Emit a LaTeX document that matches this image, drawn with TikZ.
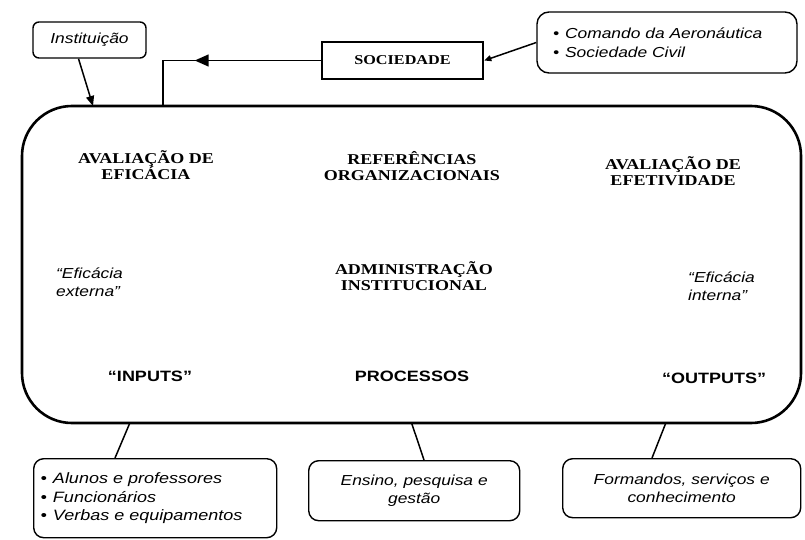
\documentclass[tikz,border=0pt]{standalone}
\usepackage{fontspec}
\setmainfont{Liberation Serif}[FakeStretch=1.2]
\setsansfont{Liberation Sans}[FakeStretch=1.2]
\usetikzlibrary{arrows.meta,decorations.markings}
\tikzset{bigbox/.style={draw, line width=2.6pt, rounded corners=50pt, inner sep=0pt},
notebox/.style={draw, line width=1.4pt, rounded corners=#1, inner sep=0pt},
%default radius of the small boxes
notebox/.default={10pt},
head/.style={font=\fontsize{15}{16}\selectfont\bfseries, align=center, inner sep=0pt},
note/.style={font=\sffamily\itshape\fontsize{14.5}{18.5}\selectfont},
stage/.style={font=\sffamily\bfseries\fontsize{15}{18}\selectfont, inner sep=0pt},
link/.style={line width=1.5pt}}
\newcommand{\itm}{\textbullet\hspace{6pt}}

\begin{document}
\begin{tikzpicture}[x=1pt,y=-1pt]
\useasboundingbox (0,0) rectangle (805,540);
% top boxes
\node[notebox=6pt, note, minimum width=113pt, minimum height=36pt] (inst) at (89.5,40) {Instituição};
\node[draw, line width=2.6pt, minimum width=161pt, minimum height=37pt, inner sep=0pt,
  font=\fontsize{13.5}{16}\selectfont\bfseries] (soc) at (402.5,60.5) {SOCIEDADE};
\node[notebox=12pt, note, minimum width=260pt, minimum height=61pt, text width=228pt,
  inner xsep=16pt, align=left] (cmd) at (667,42.5) {\itm Comando da Aeronáutica\\\itm Sociedade Civil};

% main box
\node[bigbox, minimum width=779pt, minimum height=317pt] (main) at (411.5,264.5) {};
\coordinate (instend) at (93,106);
\coordinate (socend) at (163,106);

\node[head] (avalefic) at (146,165) {AVALIAÇÃO DE\\EFICÁCIA};
\node[head] (ref) at (412,166) {REFERÊNCIAS\\ORGANIZACIONAIS};
\node[head] (avalefet) at (673,171) {AVALIAÇÃO DE\\EFETIVIDADE};
\node[note, align=left, anchor=west, inner sep=0pt] (eficext) at (56,282) {``Eficácia\\externa''};
\node[head] (adm) at (414,276) {ADMINISTRAÇÃO\\INSTITUCIONAL};
\node[note, align=left, anchor=west, inner sep=0pt] (eficint) at (688,286) {``Eficácia\\interna''};
\node[stage] (inputs) at (150,376) {``INPUTS''};
\node[stage] (proc) at (412,376) {PROCESSOS};
\node[stage] (outputs) at (714,378) {``OUTPUTS''};

% bottom boxes
\node[notebox, note, anchor=north west, minimum width=243pt, minimum height=79pt,
  text width=229pt, inner xsep=7pt, align=left,
  font=\sffamily\itshape\fontsize{15}{18.5}\selectfont] (bin) at (33,458)
  {\itm Alunos e professores\\\itm Funcionários\\\itm Verbas e equipamentos};
\node[notebox, note, anchor=north west, minimum width=211pt, minimum height=60pt,
  align=center] (bproc) at (308,460) {Ensino, pesquisa e\\gestão};
\node[notebox, note, anchor=north west, minimum width=238pt, minimum height=59pt,
  align=center] (bout) at (562,458) {Formandos, serviços e\\conhecimento};

% connectors
\draw[link, -{Triangle[length=10pt,width=8pt]}] ([xshift=-11pt]inst.south) -- (instend);
\draw[link, postaction={decorate}, decoration={markings,
  mark=at position 0.62 with {\arrow{Triangle[length=14pt,width=12pt]}}}]
  (soc.west) -| (socend);
\draw[link, -{Triangle[length=7pt,width=6pt]}] (cmd.west) -- (soc.east);
\draw[link] ([xshift=109pt,yshift=1pt]main.south west) -- ([xshift=82pt]bin.north west);
\draw[link] ([xshift=391pt,yshift=1pt]main.south west) -- ([xshift=116pt]bproc.north west);
\draw[link] ([xshift=645pt,yshift=1pt]main.south west) -- ([xshift=90pt]bout.north west);
\end{tikzpicture}
\end{document}
